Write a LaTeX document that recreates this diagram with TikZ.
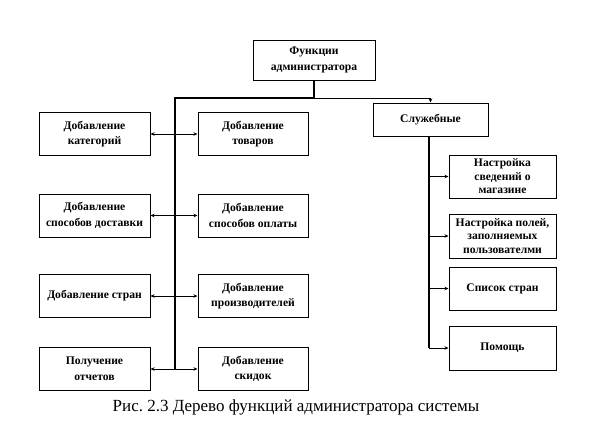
\documentclass[tikz,border=0pt]{standalone}
\usepackage{fontspec}
\setmainfont{Liberation Serif}
\usetikzlibrary{arrows.meta}
\begin{document}
\frenchspacing
\begin{tikzpicture}[x=1pt,y=-1pt,
  box/.style={draw,line width=1pt,align=center,inner sep=1pt,
    font=\bfseries\fontsize{11.6}{15.5}\selectfont},
  tbox/.style={box,font=\bfseries\fontsize{11.6}{13.5}\selectfont},
  lbox/.style={box,minimum width=111pt,minimum height=43pt},
  rbox/.style={box,minimum width=107pt,minimum height=43pt},
  conn/.style={line width=0.9pt},
  arr/.style={conn,-{Stealth[length=4pt,width=3.5pt]}},
  darr/.style={conn,{Stealth[length=4pt,width=3.5pt]}-{Stealth[length=4pt,width=3.5pt]}},
  trunk/.style={line width=2.6pt}]
\useasboundingbox (0,0) rectangle (597,434);
\node[box,minimum width=122pt,minimum height=40pt] (top) at (314,60) {Функции\\администратора};
\node[box,minimum width=115pt,minimum height=33pt] (slu) at (430.5,119.5) {Служебные};
\node[lbox] (l1) at (94.5,134) {Добавление\\категорий};
\node[lbox] (l2) at (94.5,215.5) {Добавление\\способов доставки};
\node[lbox] (l3) at (94.5,296) {Добавление стран};
\node[lbox] (l4) at (94.5,369) {Получение\\отчетов};
\node[lbox,minimum width=110pt] (r1) at (253,134) {Добавление\\товаров};
\node[lbox,minimum width=110pt] (r2) at (253,215.5) {Добавление\\способов оплаты};
\node[lbox,minimum width=110pt] (r3) at (253,296) {Добавление\\производителей};
\node[lbox,minimum width=110pt] (r4) at (253,369) {Добавление\\скидок};
\node[rbox,tbox] (s1) at (502.5,176.5) {Настройка\\сведений о\\магазине};
\node[rbox,tbox,minimum height=44pt] (s2) at (502.5,236) {Настройка полей,\\заполняемых\\пользователми};
\node[rbox] (s3) at (502.5,288.5) {Список стран};
\node[rbox,minimum height=44pt] (s4) at (502.5,348) {Помощь};
\coordinate (j) at (314,98);
\coordinate (tl) at (175,98);
\coordinate (tb) at (175,370);
\coordinate (sb) at (429,348);
\draw[conn,line width=1.2pt] (top.south) -- (j);
\draw[trunk] (j) -- (tl) -- (tb);
\draw[arr] (j) -| (slu.north);
\draw[darr] (l1.east) -- (r1.west);
\draw[darr] (l2.east) -- (r2.west);
\draw[darr] (l3.east) -- (r3.west);
\draw[darr] (l4.east) -- (r4.west);
\draw[line width=1.5pt] (slu.south -| sb) -- (sb);
\draw[arr] (s1.west -| sb) -- (s1.west);
\draw[arr] (s2.west -| sb) -- (s2.west);
\draw[arr] (s3.west -| sb) -- (s3.west);
\draw[arr] (sb) -- (s4.west);
\node[font=\fontsize{17}{20}\selectfont] (cap) at (296,407) {Рис.\ 2.3 Дерево функций администратора системы};
\end{tikzpicture}
\end{document}
